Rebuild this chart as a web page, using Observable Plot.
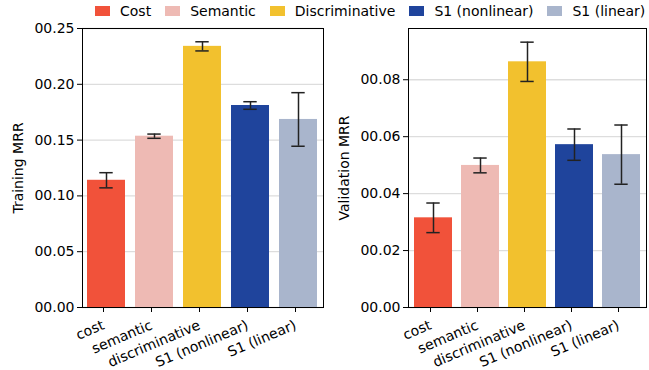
<!DOCTYPE html>
<html>
<head>
<meta charset="utf-8">
<script src="https://cdn.jsdelivr.net/npm/d3@7"></script>
<script src="https://cdn.jsdelivr.net/npm/@observablehq/plot@0.6"></script>
<style>
  html, body { margin: 0; padding: 0; background: #fff; }
  #wrap { position: relative; width: 649px; height: 370px; font-family: "DejaVu Sans", sans-serif; overflow: hidden; }
  #legend { position: absolute; left: 95px; top: 3px; display: flex; align-items: center; font-size: 14px; color: #000; white-space: nowrap; }
  .item { display: flex; align-items: center; margin-right: 14px; }
  .sw { width: 15px; height: 10px; margin-right: 10px; }
  .panel { position: absolute; top: 0; }
</style>
</head>
<body>
<div id="wrap">
  <div id="legend"></div>
  <div id="left" class="panel" style="left:0px"></div>
  <div id="right" class="panel" style="left:330px"></div>
</div>
<script>
const categories = ["cost", "semantic", "discriminative", "S1 (nonlinear)", "S1 (linear)"];
const legendLabels = ["Cost", "Semantic", "Discriminative", "S1 (nonlinear)", "S1 (linear)"];
const colors = ["#f1523a", "#eebab4", "#f2c12e", "#1f449c", "#a9b5cc"];

const trainMean = [0.114, 0.1535, 0.234, 0.181, 0.1685];
const trainErr  = [0.0068, 0.0019, 0.0041, 0.0034, 0.0240];
const valMean   = [0.0315, 0.0499, 0.0863, 0.0572, 0.0537];
const valErr    = [0.0052, 0.0026, 0.0069, 0.0055, 0.0104];

const trainTicks = [0, 0.05, 0.10, 0.15, 0.20, 0.25];
const valTicks = [0, 0.02, 0.04, 0.06, 0.08];

// legend
const leg = document.getElementById("legend");
legendLabels.forEach((l, i) => {
  const it = document.createElement("div");
  it.className = "item";
  it.innerHTML = `<div class="sw" style="background:${colors[i]}"></div><span>${l}</span>`;
  leg.appendChild(it);
});

function panel({means, errs, domain, ticks, label, width, marginLeft, marginRight}) {
  const data = categories.map((c, i) => ({cat: c, v: means[i], lo: means[i] - errs[i], hi: means[i] + errs[i]}));
  return Plot.plot({
    width, height: 370,
    marginTop: 28, marginBottom: 63, marginLeft, marginRight,
    style: {fontFamily: "DejaVu Sans, sans-serif", fontSize: "14px", color: "#000", background: "transparent", overflow: "visible"},
    x: {domain: categories, paddingInner: 0.2, paddingOuter: 0.1},
    y: {domain},
    color: {domain: categories, range: colors},
    marks: [
      Plot.gridY(ticks, {stroke: "#dddddd", strokeOpacity: 1, strokeWidth: 1.3}),
      Plot.barY(data, {x: "cat", y: "v", fill: "cat"}),
      Plot.ruleX(data, {x: "cat", y1: "lo", y2: "hi", stroke: "#222", strokeWidth: 1.5}),
      Plot.tickY(data, {x: "cat", y: "lo", stroke: "#222", strokeWidth: 1.5, insetLeft: 12.3, insetRight: 12.3}),
      Plot.tickY(data, {x: "cat", y: "hi", stroke: "#222", strokeWidth: 1.5, insetLeft: 12.3, insetRight: 12.3}),
      Plot.axisX({label: null, tickRotate: -23, tickSize: 5, tickPadding: 12, fontSize: 14, dx: -3}),
      Plot.axisY(ticks, {tickFormat: d3.format("05.2f"), label, labelAnchor: "center", labelArrow: "none", tickSize: 5, tickPadding: 3, labelOffset: 69, fontSize: 14}),
      Plot.frame({stroke: "#000", strokeWidth: 1})
    ]
  });
}

document.getElementById("left").appendChild(panel({
  means: trainMean, errs: trainErr, domain: [0, 0.25], ticks: trainTicks,
  label: "Training MRR", width: 330, marginLeft: 82, marginRight: 7
}));
document.getElementById("right").appendChild(panel({
  means: valMean, errs: valErr, domain: [0, 0.098], ticks: valTicks,
  label: "Validation MRR", width: 319, marginLeft: 78, marginRight: 3
}));
</script>
</body>
</html>
